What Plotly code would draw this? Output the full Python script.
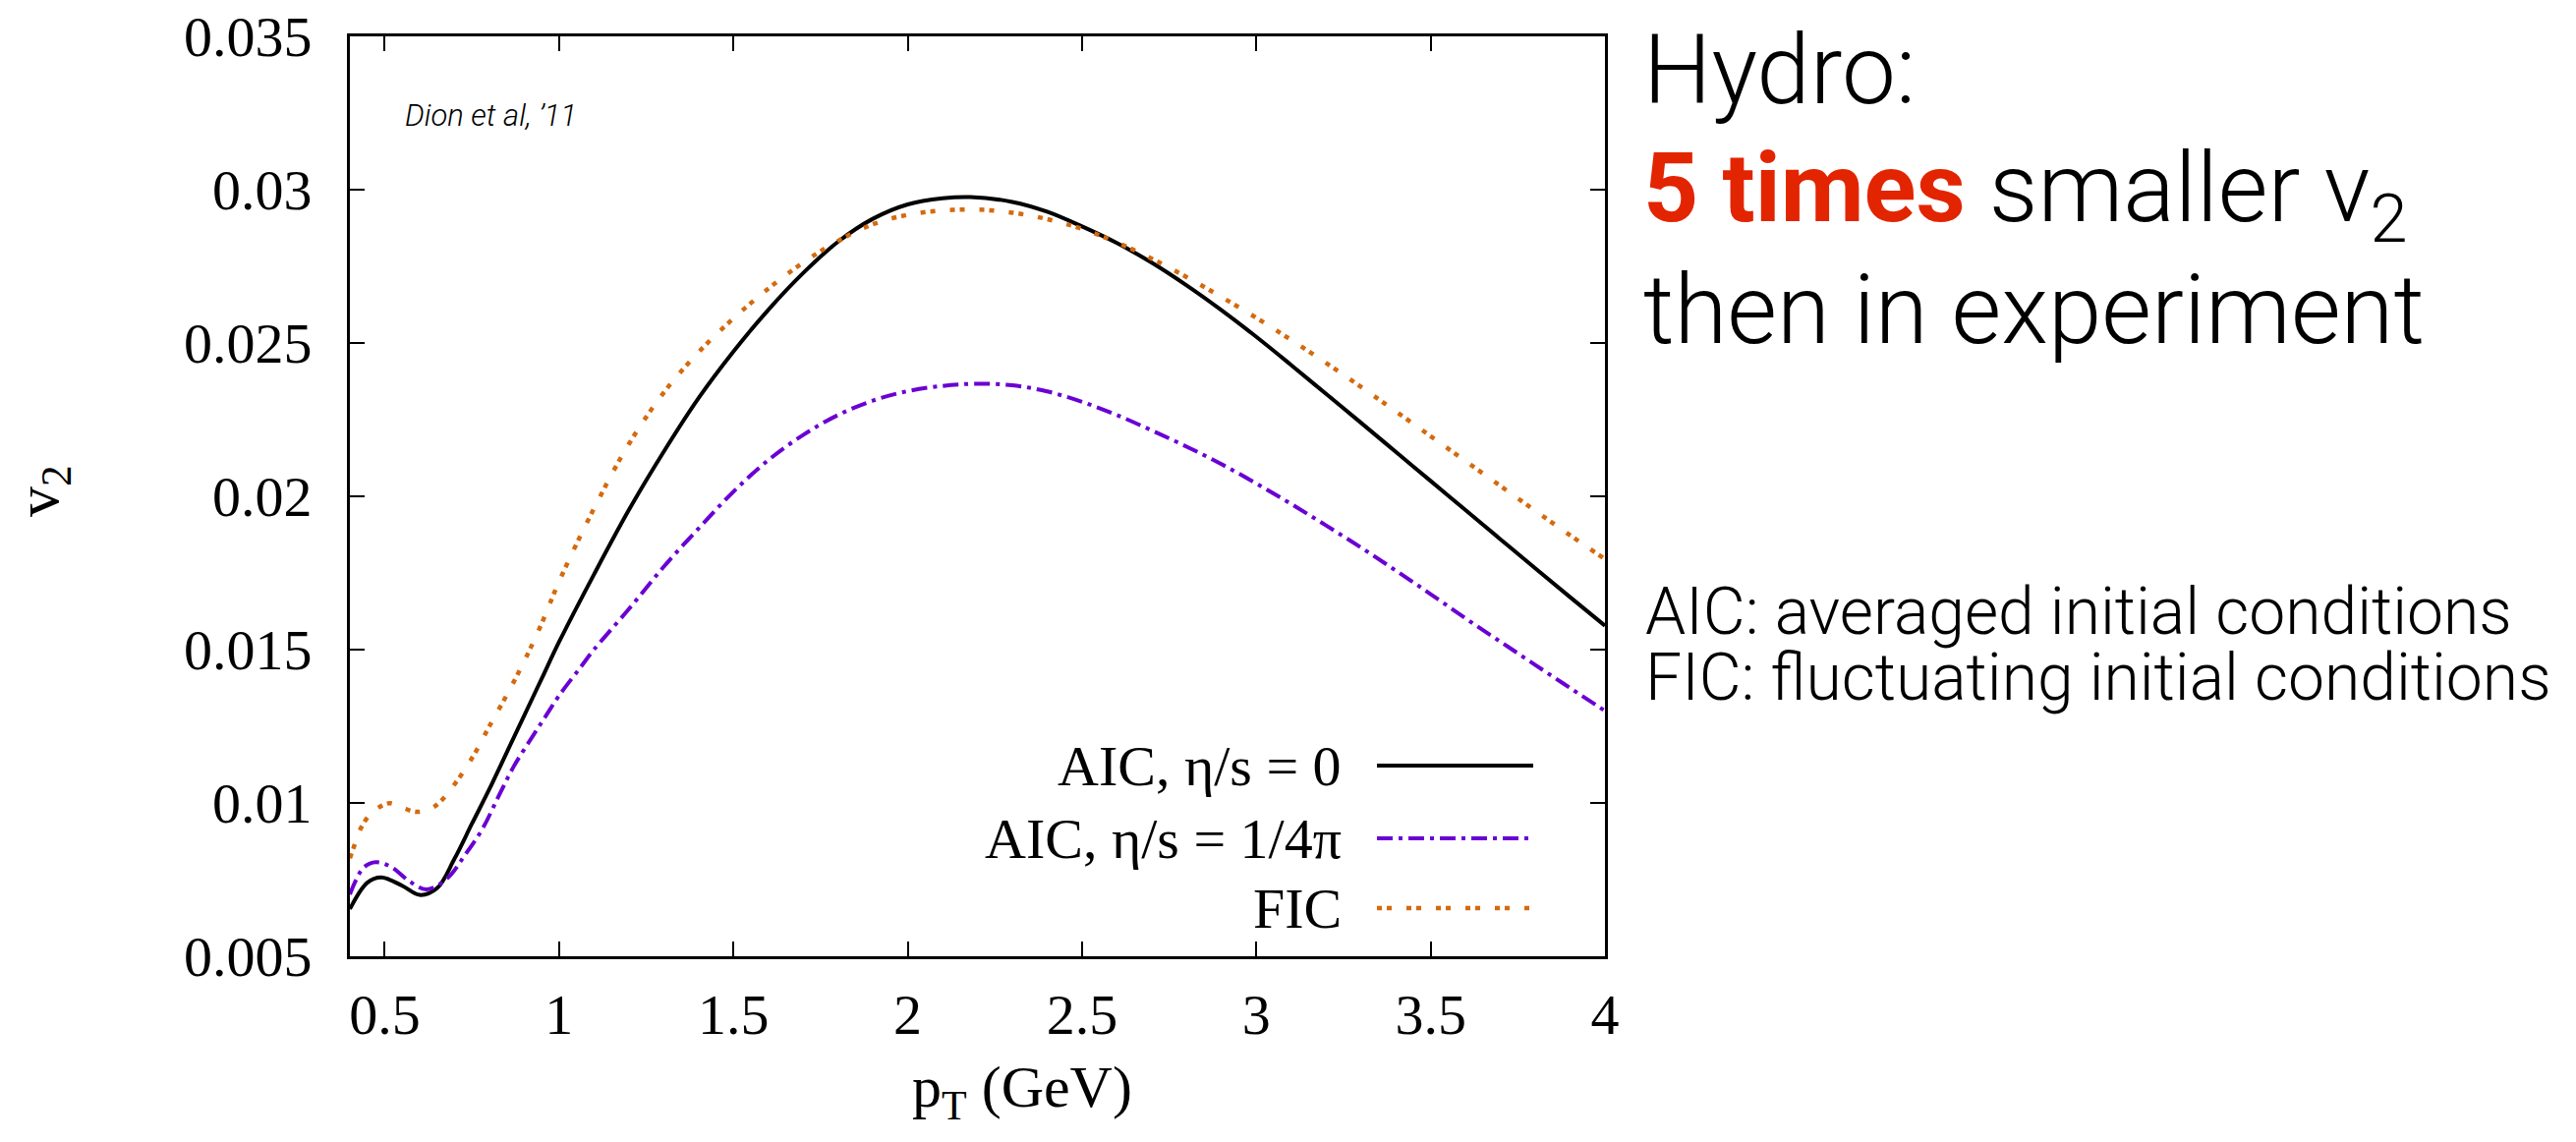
import plotly.graph_objects as go

# ---------------- data ----------------
pt_aic0 = [0.40, 0.45, 0.49, 0.55, 0.60, 0.65, 0.70, 0.75, 0.80, 0.85, 0.90, 0.95, 1.00,
           1.10, 1.20, 1.30, 1.40, 1.50, 1.60, 1.70, 1.80, 1.90, 2.00, 2.10, 2.18, 2.30,
           2.40, 2.50, 2.60, 2.70, 2.80, 2.90, 3.00, 3.10, 3.20, 3.30, 3.40, 3.50, 3.60,
           3.70, 3.80, 3.90, 4.00]
v2_aic0 = [0.00654, 0.00740, 0.00757, 0.00730, 0.00700, 0.00722, 0.00818, 0.00932, 0.01045,
           0.01165, 0.01285, 0.01405, 0.01525, 0.01745, 0.01955, 0.02145, 0.02320, 0.02472,
           0.02608, 0.02728, 0.02830, 0.02905, 0.02952, 0.02972, 0.02976, 0.02960, 0.02928,
           0.02880, 0.02826, 0.02762, 0.02688, 0.02607, 0.02520, 0.02428, 0.02334, 0.02240,
           0.02145, 0.02050, 0.01955, 0.01860, 0.01765, 0.01671, 0.01578]

pt_aicv = [0.40, 0.44, 0.475, 0.52, 0.57, 0.62, 0.68, 0.73, 0.78, 0.83, 0.87, 0.92, 0.96,
           1.00, 1.06, 1.10, 1.20, 1.30, 1.40, 1.50, 1.60, 1.70, 1.80, 1.90, 2.00, 2.10,
           2.19, 2.30, 2.40, 2.50, 2.60, 2.70, 2.80, 2.90, 3.00, 3.10, 3.20, 3.30, 3.40,
           3.50, 3.60, 3.70, 3.80, 3.90, 4.00]
v2_aicv = [0.00702, 0.00790, 0.00807, 0.00790, 0.00745, 0.00718, 0.00755, 0.00830, 0.00915,
           0.01030, 0.01119, 0.01210, 0.01280, 0.01350, 0.01440, 0.01500, 0.01632, 0.01770,
           0.01895, 0.02015, 0.02118, 0.02200, 0.02265, 0.02312, 0.02343, 0.02360, 0.02367,
           0.02362, 0.02342, 0.02308, 0.02265, 0.02215, 0.02162, 0.02105, 0.02042, 0.01975,
           0.01905, 0.01833, 0.01758, 0.01681, 0.01602, 0.01526, 0.01450, 0.01375, 0.01300]

pt_fic = [0.40, 0.41, 0.433, 0.46, 0.49, 0.515, 0.55, 0.59, 0.63, 0.66, 0.71, 0.76, 0.80,
          0.85, 0.90, 0.95, 1.00, 1.10, 1.20, 1.30, 1.40, 1.50, 1.60, 1.70, 1.80, 1.90,
          2.00, 2.10, 2.20, 2.30, 2.40, 2.50, 2.60, 2.70, 2.80, 2.90, 3.00, 3.10, 3.20,
          3.30, 3.40, 3.50, 3.60, 3.70, 3.80, 3.90, 4.00]
v2_fic = [0.00820, 0.00852, 0.00921, 0.00965, 0.00990, 0.00999, 0.00985, 0.00971, 0.00980,
          0.01005, 0.01076, 0.01165, 0.01250, 0.01352, 0.01462, 0.01585, 0.01722, 0.01960,
          0.02170, 0.02338, 0.02470, 0.02580, 0.02677, 0.02762, 0.02833, 0.02887, 0.02918,
          0.02932, 0.02935, 0.02925, 0.02904, 0.02872, 0.02828, 0.02775, 0.02715, 0.02650,
          0.02582, 0.02510, 0.02435, 0.02357, 0.02277, 0.02196, 0.02115, 0.02034, 0.01953,
          0.01873, 0.01795]

series_names = ["AIC, η/s = 0", "AIC, η/s = 1/4π", "FIC"]
x_tick_vals = [0.5, 1, 1.5, 2, 2.5, 3, 3.5, 4]
x_tick_text = ["0.5", "1", "1.5", "2", "2.5", "3", "3.5", "4"]
y_tick_vals = [0.005, 0.01, 0.015, 0.02, 0.025, 0.03, 0.035]
y_tick_text = ["0.005", "0.01", "0.015", "0.02", "0.025", "0.03", "0.035"]

# ---------------- styling ----------------
W, H = 2621, 1162
L, R, T, B = 356, 1633, 37, 973      # plot area in pixels
SERIF = "Liberation Serif"
SANS = "Roboto"
colors = ["#000000", "#6a00d4", "#d46a0e"]
dashes = ["solid", "16px,6px,4px,6px", "5px,5px,5px,15px"]
widths = [4, 4, 4.5]

def px(xp):
    return (xp - L) / (R - L)

def py(yp):
    return (B - yp) / (B - T)

fig = go.Figure()
for xs, ys, name, c, d, w in zip([pt_aic0, pt_aicv, pt_fic], [v2_aic0, v2_aicv, v2_fic],
                                 series_names, colors, dashes, widths):
    fig.add_trace(go.Scatter(x=xs, y=ys, mode="lines", name=name,
                             line=dict(color=c, width=w, dash=d, shape="spline", smoothing=1.0),
                             showlegend=False))

axis_common = dict(showline=True, linecolor="black", linewidth=3, mirror="ticks",
                   ticks="inside", ticklen=15, tickwidth=2, tickcolor="black",
                   showgrid=False, zeroline=False,
                   tickfont=dict(family=SERIF, size=58, color="black"))

fig.update_xaxes(range=[0.4, 4], tickvals=x_tick_vals, ticktext=x_tick_text,
                 ticklabelstandoff=6, **axis_common)
fig.update_yaxes(range=[0.005, 0.035], tickvals=y_tick_vals, ticktext=y_tick_text,
                 ticklabelstandoff=24, **axis_common)

annotations = []
# axis titles
annotations.append(dict(text="p<sub>T</sub> (GeV)", x=px(1040), y=py(1110), xref="paper", yref="paper",
                        xanchor="center", yanchor="middle", showarrow=False,
                        font=dict(family=SERIF, size=60, color="black")))
annotations.append(dict(text="v<sub>2</sub>", x=px(42), y=py(500), xref="paper", yref="paper",
                        xanchor="center", yanchor="middle", showarrow=False, textangle=-90,
                        font=dict(family=SERIF, size=62, color="black")))
# citation
annotations.append(dict(text="<i>Dion et al, ’11</i>", x=px(410), y=py(117), xref="paper", yref="paper",
                        xanchor="left", yanchor="middle", showarrow=False,
                        font=dict(family=SANS, size=31, color="black", weight=300)))
# legend
legend_rows_y = [779, 853, 924]
shapes = []
for name, c, d, w, yy in zip(series_names, colors, dashes, widths, legend_rows_y):
    annotations.append(dict(text=name, x=px(1367), y=py(yy), xref="paper", yref="paper",
                            xanchor="right", yanchor="middle", showarrow=False,
                            font=dict(family=SERIF, size=58, color="black")))
    shapes.append(dict(type="line", xref="paper", yref="paper", x0=px(1401), x1=px(1560),
                       y0=py(yy), y1=py(yy), line=dict(color=c, width=w, dash=d)))

# right-hand text
big = dict(family=SANS, size=98, color="black", weight=300)
annotations.append(dict(text="Hydro:", x=px(1670), y=py(72), xref="paper", yref="paper",
                        xanchor="left", yanchor="middle", showarrow=False, font=big))
annotations.append(dict(text="<span style=\"font-weight:bold;color:#e32400\">5 times</span> smaller v<sub>2</sub>",
                        x=px(1670), y=py(198), xref="paper", yref="paper",
                        xanchor="left", yanchor="middle", showarrow=False, font=big))
annotations.append(dict(text="then in experiment", x=px(1670), y=py(315), xref="paper", yref="paper",
                        xanchor="left", yanchor="middle", showarrow=False, font=big))
med = dict(family=SANS, size=66, color="black", weight=300)
annotations.append(dict(text="AIC: averaged initial conditions", x=px(1672), y=py(622),
                        xref="paper", yref="paper", xanchor="left", yanchor="middle",
                        showarrow=False, font=med))
annotations.append(dict(text="FIC: fluctuating initial conditions", x=px(1672), y=py(689),
                        xref="paper", yref="paper", xanchor="left", yanchor="middle",
                        showarrow=False, font=med))

fig.update_layout(width=W, height=H, margin=dict(l=L, r=W - R, t=T, b=H - B, autoexpand=False),
                  paper_bgcolor="white", plot_bgcolor="white",
                  annotations=annotations, shapes=shapes, showlegend=False)

fig.write_html("out.html")
